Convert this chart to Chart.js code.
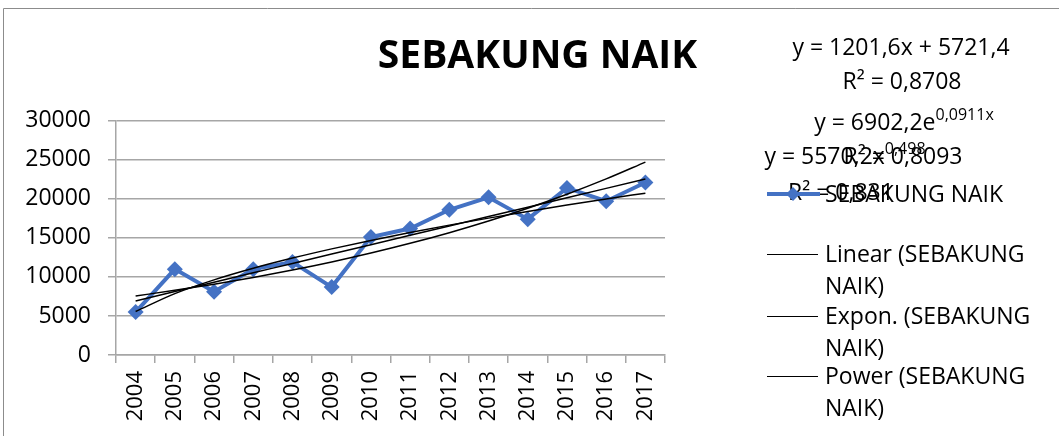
<!DOCTYPE html>
<html>
<head>
<meta charset="utf-8">
<script src="https://cdn.jsdelivr.net/npm/chart.js@4"></script>
<style>
  body { margin: 0; background: #fff; }
</style>
</head>
<body>
<canvas id="naik" width="1059" height="436"></canvas>
<script>
// data
const years = ["2004","2005","2006","2007","2008","2009","2010","2011","2012","2013","2014","2015","2016","2017"];
const naik = [5500, 11000, 8100, 11000, 11900, 8700, 15100, 16200, 18600, 20200, 17400, 21400, 19700, 22100];

// trendline coefficients as printed on the chart
const linCoef = [1201.6, 5721.4];
const expCoef = [6902.2, 0.0911];
const powCoef = [5570.2, 0.498];
const r2Labels = ["0,8708", "0,8093", "0,831"];
const yTicks = [0, 5000, 10000, 15000, 20000, 25000, 30000];

const FONT = "'Open Sans', 'Noto Sans', sans-serif";

const xs = years.map((y, i) => i + 1);
const linTrend = xs.map(x => linCoef[0] * x + linCoef[1]);
const expTrend = xs.map(x => expCoef[0] * Math.exp(expCoef[1] * x));
const powTrend = xs.map(x => powCoef[0] * Math.pow(x, powCoef[1]));

const comma = v => String(v).replace(".", ",");

// text put on by hand: frame, equations and the legend
const extras = {
  id: "extras",
  beforeDraw(chart) {
    const c = chart.ctx;
    c.save();
    c.strokeStyle = "#8c8c8c";
    c.lineWidth = 1;
    c.beginPath();
    c.moveTo(3.5, 436);
    c.lineTo(3.5, 8.5);
    c.lineTo(1059, 8.5);
    c.stroke();
    c.restore();
  },
  afterDraw(chart) {
    const c = chart.ctx;
    c.save();
    c.fillStyle = "#000";
    c.textBaseline = "middle";

    function eq(parts, cx, cy) {
      let w = 0;
      parts.forEach(p => {
        c.font = (p[1] ? "16px " : "23px ") + FONT;
        w += c.measureText(p[0]).width;
      });
      let x = cx - w / 2;
      c.textAlign = "left";
      parts.forEach(p => {
        c.font = (p[1] ? "16px " : "23px ") + FONT;
        c.fillText(p[0], x, p[1] ? cy - 8 : cy);
        x += c.measureText(p[0]).width;
      });
    }

    eq([["y = " + comma(linCoef[0]) + "x + " + comma(linCoef[1]), 0]], 901, 48);
    eq([["R² = " + r2Labels[0], 0]], 902, 82);
    eq([["y = " + comma(expCoef[0]) + "e", 0], [comma(expCoef[1]) + "x", 1]], 904, 123);
    eq([["R² = " + r2Labels[1], 0]], 903, 157);
    eq([["y = " + comma(powCoef[0]) + "x", 0], [comma(powCoef[1]), 1]], 845, 157);
    eq([["R² = " + r2Labels[2], 0]], 841, 193);

    // legend
    c.font = "23px " + FONT;
    c.textAlign = "left";
    c.strokeStyle = "#4472C4";
    c.lineWidth = 4;
    c.beginPath();
    c.moveTo(767, 194);
    c.lineTo(820, 194);
    c.stroke();
    c.fillStyle = "#4472C4";
    c.beginPath();
    c.moveTo(793, 187);
    c.lineTo(800, 194);
    c.lineTo(793, 201);
    c.lineTo(786, 194);
    c.closePath();
    c.fill();
    c.fillStyle = "#000";
    c.fillText("SEBAKUNG NAIK", 825, 195);

    const items = [["Linear (SEBAKUNG", "NAIK)", 254], ["Expon. (SEBAKUNG", "NAIK)", 316], ["Power (SEBAKUNG", "NAIK)", 376]];
    items.forEach(it => {
      c.strokeStyle = "#000";
      c.lineWidth = 1;
      c.beginPath();
      c.moveTo(767, it[2] + 0.5);
      c.lineTo(818, it[2] + 0.5);
      c.stroke();
      c.fillText(it[0], 825, it[2] + 1);
      c.fillText(it[1], 825, it[2] + 33);
    });
    c.restore();
  }
};

const trendStyle = {
  borderColor: "#000",
  borderWidth: 1.5,
  pointRadius: 0,
  fill: false,
  cubicInterpolationMode: "monotone"
};

new Chart(document.getElementById("naik"), {
  type: "line",
  data: {
    labels: years,
    datasets: [{
        label: "SEBAKUNG NAIK",
        data: naik,
        borderColor: "#4472C4",
        backgroundColor: "#4472C4",
        borderWidth: 4,
        pointStyle: "rectRot",
        pointRadius: 8,
        pointBorderWidth: 0,
        order: 4
      },
      Object.assign({ label: "Linear (SEBAKUNG NAIK)", data: linTrend, order: 1 }, trendStyle),
      Object.assign({ label: "Expon. (SEBAKUNG NAIK)", data: expTrend, order: 2 }, trendStyle),
      Object.assign({ label: "Power (SEBAKUNG NAIK)", data: powTrend, order: 3 }, trendStyle)
    ]
  },
  options: {
    responsive: false,
    animation: false,
    layout: { padding: { left: 16, right: 0, top: 0, bottom: 0 } },
    plugins: {
      legend: { display: false },
      tooltip: { enabled: false },
      title: {
        display: true,
        text: "SEBAKUNG NAIK",
        color: "#000",
        font: { family: FONT, size: 39, weight: "bold", lineHeight: 1.2 },
        padding: { top: 33, bottom: 41 }
      }
    },
    scales: {
      x: {
        offset: true,
        grid: { offset: true, drawOnChartArea: false, tickLength: 8, color: "#a6a6a6", lineWidth: 1.5 },
        border: { color: "#a6a6a6", width: 1.5 },
        ticks: { color: "#000", minRotation: 90, maxRotation: 90, padding: 8, font: { family: FONT, size: 22 } },
        afterFit(s) { s.height = 81; }
      },
      y: {
        min: 0,
        max: 30000,
        afterBuildTicks(s) { s.ticks = yTicks.map(v => ({ value: v })); },
        grid: { color: "#a6a6a6", lineWidth: 1.5, tickLength: 8 },
        border: { color: "#a6a6a6", width: 1.5 },
        ticks: { color: "#000", padding: 17, font: { family: FONT, size: 23 }, callback: v => String(v) },
        afterFit(s) { s.width = 100; }
      },
      yR: {
        position: "right",
        display: true,
        grid: { display: false },
        border: { display: false },
        ticks: { display: false },
        afterFit(s) { s.width = 394; }
      }
    }
  },
  plugins: [extras]
});
</script>
</body>
</html>
